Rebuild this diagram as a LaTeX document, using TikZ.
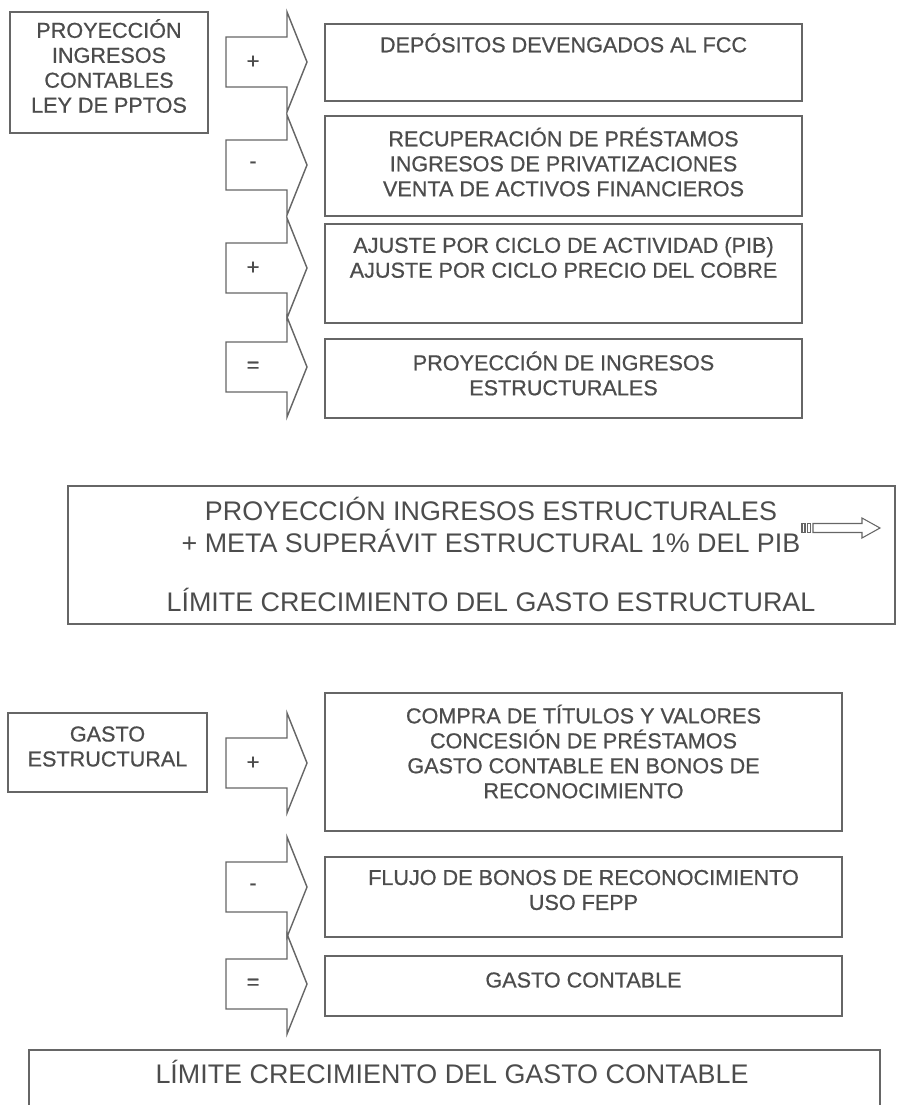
\documentclass[tikz,border=0pt]{standalone}
\usepackage{fontspec}
\setmainfont{Liberation Sans}
\newfontfamily\letrabox[FakeBold=0.7]{Liberation Sans}
\definecolor{trazo}{gray}{0.40}
\definecolor{letra}{gray}{0.30}
\tikzset{
  caja/.style={draw=trazo, line width=0.8pt},
  flecha/.style={draw=trazo, line width=0.8pt, line join=miter},
  chico/.style={text=letra, align=center, font=\letrabox\fontsize{12.3}{14.2}\selectfont},
  grande/.style={text=letra, align=center, font=\fontsize{15.3}{18.7}\selectfont},
}
\begin{document}
\begin{tikzpicture}[x=0.02cm, y=-0.02cm]
\useasboundingbox (0,0) rectangle (909,1105);
% ingresos
\draw[caja] (10,12) rectangle (208,133);%
\node[chico] (ingcont) at (109,66) {PROYECCIÓN\\INGRESOS\\CONTABLES\\LEY DE PPTOS};%
\foreach \y/\s/\n in {62/+/a, 165/-/b, 268/+/c, 367/=/d, 763/+/e, 887/-/f, 984/=/g}{
  \draw[flecha] (226,\y-25) -- (287,\y-25) -- (287,\y-50) -- (307,\y)
    -- (287,\y+50) -- (287,\y+25) -- (226,\y+25) -- cycle;%
  \node[chico] (signo\n) at (253,\y) {\s};%
}
\draw[caja] (325,24) rectangle (802,101);%
\node[chico] (deposit) at (563.5,43) {DEPÓSITOS DEVENGADOS AL FCC};%
\draw[caja] (325,116) rectangle (802,216);%
\node[chico] (recup) at (563.5,162) {RECUPERACIÓN DE PRÉSTAMOS\\INGRESOS DE PRIVATIZACIONES\\VENTA DE ACTIVOS FINANCIEROS};%
\draw[caja] (325,224) rectangle (802,323);%
\node[chico] (ajuste) at (563.5,257.5) {AJUSTE POR CICLO DE ACTIVIDAD (PIB)\\AJUSTE POR CICLO PRECIO DEL COBRE};%
\draw[caja] (325,339) rectangle (802,418);%
\node[chico] (ingest) at (563.5,373.5) {PROYECCIÓN DE INGRESOS\\ESTRUCTURALES};%
% meta
\draw[caja] (68,486) rectangle (895,624);%
\node[grande] (meta) at (491,525) {PROYECCIÓN INGRESOS ESTRUCTURALES\\+ META SUPERÁVIT ESTRUCTURAL 1\% DEL PIB};%
\node[grande] (limest) at (491,600) {LÍMITE CRECIMIENTO DEL GASTO ESTRUCTURAL};%
\draw[flecha, line width=0.6pt] (813,523.5) -- (862,523.5) -- (862,518) -- (880,528)
  -- (862,538) -- (862,532.5) -- (813,532.5) -- cycle;%
\draw[flecha, line width=0.6pt] (802,523.5) rectangle (805,532.5);%
\draw[flecha, line width=0.6pt] (807.5,523.5) rectangle (810.5,532.5);%
% gastos
\draw[caja] (8,713) rectangle (207,792);%
\node[chico] (gastest) at (107.5,746.5) {GASTO\\ESTRUCTURAL};%
\draw[caja] (325,693) rectangle (842,831);%
\node[chico] (compra) at (583.5,751.5) {COMPRA DE TÍTULOS Y VALORES\\CONCESIÓN DE PRÉSTAMOS\\GASTO CONTABLE EN BONOS DE\\RECONOCIMIENTO};%
\draw[caja] (325,857) rectangle (842,937);%
\node[chico] (flujo) at (583.5,890) {FLUJO DE BONOS DE RECONOCIMIENTO\\USO FEPP};%
\draw[caja] (325,956) rectangle (842,1016);%
\node[chico] (gastcont) at (583.5,980) {GASTO CONTABLE};%
\draw[caja] (29,1105) -- (29,1050) -- (880,1050) -- (880,1105);%
\node[grande] (limcont) at (452,1072) {LÍMITE CRECIMIENTO DEL GASTO CONTABLE};%
\end{tikzpicture}
\end{document}
